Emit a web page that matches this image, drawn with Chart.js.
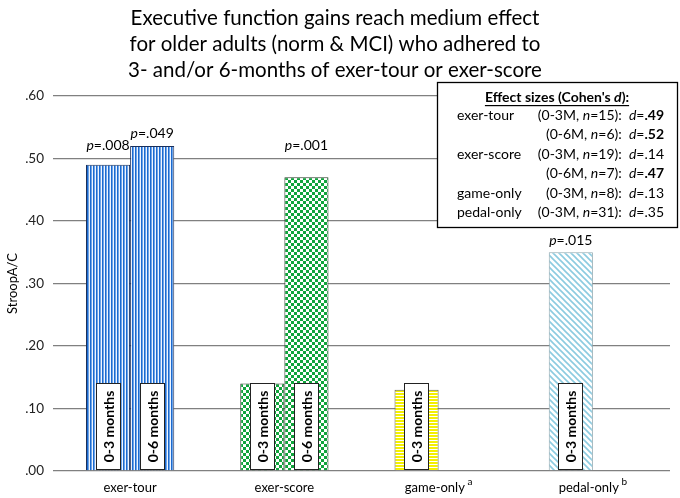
<!DOCTYPE html>
<html>
<head>
<meta charset="utf-8">
<script src="https://cdn.jsdelivr.net/npm/chart.js@4.4.1/dist/chart.umd.min.js"></script>
<style>
  html, body { margin: 0; padding: 0; background: #fff; }
</style>
</head>
<body>
<canvas id="chart" width="680" height="498"></canvas>
<script>
const categories = ['exer-tour', 'exer-score', 'game-only', 'pedal-only'];
const categoryNotes = ['', '', 'a', 'b'];
const seriesNames = ['0-3 months', '0-6 months'];
const months3 = [0.49, 0.14, 0.13, 0.35];
const months6 = [0.52, 0.47, null, null];
const pValues3 = ['.008', null, null, '.015'];
const pValues6 = ['.049', '.001', null, null];

const titleLines = [
    'Executive function gains reach medium effect',
    'for older adults (norm & MCI) who adhered to',
    '3- and/or 6-months of exer-tour or exer-score'
];

// effect size box rows
const effectNames = ['exer-tour', '', 'exer-score', '', 'game-only', 'pedal-only'];
const effectPeriods = ['0-3M', '0-6M', '0-3M', '0-6M', '0-3M', '0-3M'];
const effectN = ['15', '6', '19', '7', '8', '31'];
const effectD = ['.49', '.52', '.14', '.47', '.13', '.35'];
const effectBold = [true, true, false, true, false, false];

const FONT = 'Lato';

function makePattern(kind) {
    const c = document.createElement('canvas');
    const g = c.getContext('2d');
    if (kind === 'vstripe') {
        c.width = 3; c.height = 3;
        g.fillStyle = '#eef4ff'; g.fillRect(0, 0, 3, 3);
        g.fillStyle = '#1b6ad0'; g.fillRect(0, 0, 1, 3);
        g.fillStyle = '#6fa5e6'; g.fillRect(1, 0, 1, 3);
    } else if (kind === 'checker') {
        c.width = 6; c.height = 6;
        g.fillStyle = '#fff'; g.fillRect(0, 0, 6, 6);
        g.fillStyle = '#10a43c';
        g.fillRect(0, 0, 3, 3); g.fillRect(3, 3, 3, 3);
    } else if (kind === 'hstripe') {
        c.width = 4; c.height = 3;
        g.fillStyle = '#fff'; g.fillRect(0, 0, 4, 3);
        g.fillStyle = '#f4f000'; g.fillRect(0, 0, 4, 2);
    } else {
        c.width = 6; c.height = 6;
        g.fillStyle = '#fff'; g.fillRect(0, 0, 6, 6);
        g.strokeStyle = '#8ccbe0'; g.lineWidth = 1.6;
        g.beginPath();
        g.moveTo(-1, -1); g.lineTo(7, 7);
        g.moveTo(-1, 5); g.lineTo(1, 7);
        g.moveTo(5, -1); g.lineTo(7, 1);
        g.stroke();
    }
    return g.createPattern(c, 'repeat');
}

const catFills = [makePattern('vstripe'), makePattern('checker'), makePattern('hstripe'), makePattern('diag')];
const catBorders = ['#1a2f5a', '#2a3a2a', '#666666', '#8fa8b0'];

function drawRuns(ctx, runs, x, y, align) {
    const widths = runs.map(r => { ctx.font = r.f; return ctx.measureText(r.t).width; });
    const total = widths.reduce((a, b) => a + b, 0);
    let cx = align === 'right' ? x - total : align === 'center' ? x - total / 2 : x;
    const start = cx;
    runs.forEach((r, i) => { ctx.font = r.f; ctx.fillText(r.t, cx + (r.dx || 0), y + (r.dy || 0)); cx += widths[i]; });
    return { start, total };
}

const barLabels = {
    id: 'barLabels',
    afterDatasetsDraw(chart) {
        const ctx = chart.ctx;
        const y = chart.scales.y;
        const base = y.getPixelForValue(0);
        const gridPx = y.ticks.map(t => y.getPixelForValue(t.value));
        chart.data.datasets.forEach((ds, di) => {
            const meta = chart.getDatasetMeta(di);
            meta.data.forEach((bar, i) => {
                if (ds.data[i] == null) return;
                // white label box at the bottom of each bar
                const bw = 25, bh = 87;
                const bx = Math.round(bar.x - bw / 2), by = Math.round(base - 1 - bh);
                ctx.save();
                ctx.fillStyle = '#fff';
                ctx.fillRect(bx, by, bw, bh);
                ctx.strokeStyle = '#222';
                ctx.lineWidth = 1;
                ctx.strokeRect(bx + 0.5, by + 0.5, bw - 1, bh - 1);
                ctx.translate(bar.x, by + bh / 2);
                ctx.rotate(-Math.PI / 2);
                ctx.font = 'bold 14px ' + FONT;
                ctx.fillStyle = '#000';
                ctx.textAlign = 'center';
                ctx.textBaseline = 'middle';
                ctx.fillText(ds.label, 0, 1);
                ctx.restore();

                // p value above bar, lifted over a gridline if it would sit on one
                const p = ds.pValues[i];
                if (!p) return;
                let cy = bar.y - 12;
                gridPx.forEach(gy => { if (Math.abs(cy - gy) < 9) cy = gy - 13; });
                ctx.save();
                ctx.fillStyle = '#000';
                ctx.textBaseline = 'middle';
                drawRuns(ctx, [
                    { t: 'p', f: 'italic 14px ' + FONT },
                    { t: '=' + p, f: '14px ' + FONT }
                ], bar.x, cy, 'center');
                ctx.restore();
            });
        });

        // category labels with superscript notes
        const x = chart.scales.x;
        ctx.save();
        ctx.fillStyle = '#000';
        ctx.textBaseline = 'middle';
        categories.forEach((c, i) => {
            const runs = [{ t: c, f: '13px ' + FONT }];
            if (categoryNotes[i]) runs.push({ t: ' ' + categoryNotes[i], f: '10px ' + FONT, dy: -6 });
            drawRuns(ctx, runs, x.getPixelForValue(i), base + 17, 'center');
        });
        ctx.restore();
    }
};

const effectBox = {
    id: 'effectBox',
    afterDraw(chart) {
        const ctx = chart.ctx;
        const left = 437, top = 82, w = 241, h = 146;
        ctx.save();
        ctx.fillStyle = '#fff';
        ctx.fillRect(left, top, w, h);
        ctx.strokeStyle = '#000';
        ctx.lineWidth = 1.3;
        ctx.strokeRect(left + 0.5, top + 0.5, w - 1, h - 1);
        ctx.fillStyle = '#000';
        ctx.textBaseline = 'middle';

        const t = drawRuns(ctx, [
            { t: 'Effect sizes (Cohen\'s ', f: 'bold 14px ' + FONT },
            { t: 'd', f: 'italic bold 14px ' + FONT },
            { t: '):', f: 'bold 14px ' + FONT }
        ], 557, 97, 'center');
        ctx.fillRect(t.start, 105, t.total, 1.2);

        const right = 664;
        effectNames.forEach((name, i) => {
            const ry = 115 + i * 19.5;
            if (name) {
                ctx.font = '14px ' + FONT;
                ctx.fillText(name, 457, ry);
            }
            drawRuns(ctx, [
                { t: '(' + effectPeriods[i] + ', ', f: '14px ' + FONT },
                { t: 'n', f: 'italic 14px ' + FONT },
                { t: '=' + effectN[i] + '):  ', f: '14px ' + FONT },
                { t: 'd', f: 'italic 14px ' + FONT },
                { t: '=', f: '14px ' + FONT },
                { t: effectD[i], f: (effectBold[i] ? 'bold ' : '') + '14px ' + FONT }
            ], right, ry, 'right');
        });
        ctx.restore();
    }
};

new Chart(document.getElementById('chart'), {
    type: 'bar',
    data: {
        labels: categories,
        datasets: [
            {
                label: seriesNames[0],
                data: months3,
                pValues: pValues3,
                backgroundColor: catFills,
                borderColor: catBorders,
                borderWidth: 1
            },
            {
                label: seriesNames[1],
                data: months6,
                pValues: pValues6,
                backgroundColor: catFills,
                borderColor: catBorders,
                borderWidth: 1
            }
        ]
    },
    options: {
        responsive: false,
        animation: false,
        devicePixelRatio: 1,
        categoryPercentage: 0.572,
        barPercentage: 1.0,
        layout: { padding: { left: 0, right: 10, top: 0, bottom: 0 } },
        plugins: {
            legend: { display: false },
            tooltip: { enabled: false },
            title: {
                display: true,
                text: titleLines,
                color: '#000',
                font: { family: FONT, size: 20.5, weight: 'normal', lineHeight: 1.25 },
                padding: { top: 6, bottom: 13 }
            }
        },
        scales: {
            x: {
                grid: { display: false, drawTicks: false },
                border: { display: false },
                ticks: { display: false },
                afterFit: s => { s.height = 27; }
            },
            y: {
                min: 0,
                max: 0.6,
                ticks: {
                    stepSize: 0.1,
                    color: '#222',
                    padding: 9,
                    font: { family: FONT, size: 13.5 },
                    callback: v => v.toFixed(2).replace(/^0/, '')
                },
                grid: { color: '#808080', lineWidth: 1.3, drawTicks: false },
                border: { display: false },
                title: {
                    display: true,
                    text: 'StroopA/C',
                    color: '#000',
                    font: { family: FONT, size: 13 },
                    padding: { top: 5, bottom: 2 }
                },
                afterFit: s => { s.width = 53; }
            }
        }
    },
    plugins: [barLabels, effectBox]
});
</script>
</body>
</html>
